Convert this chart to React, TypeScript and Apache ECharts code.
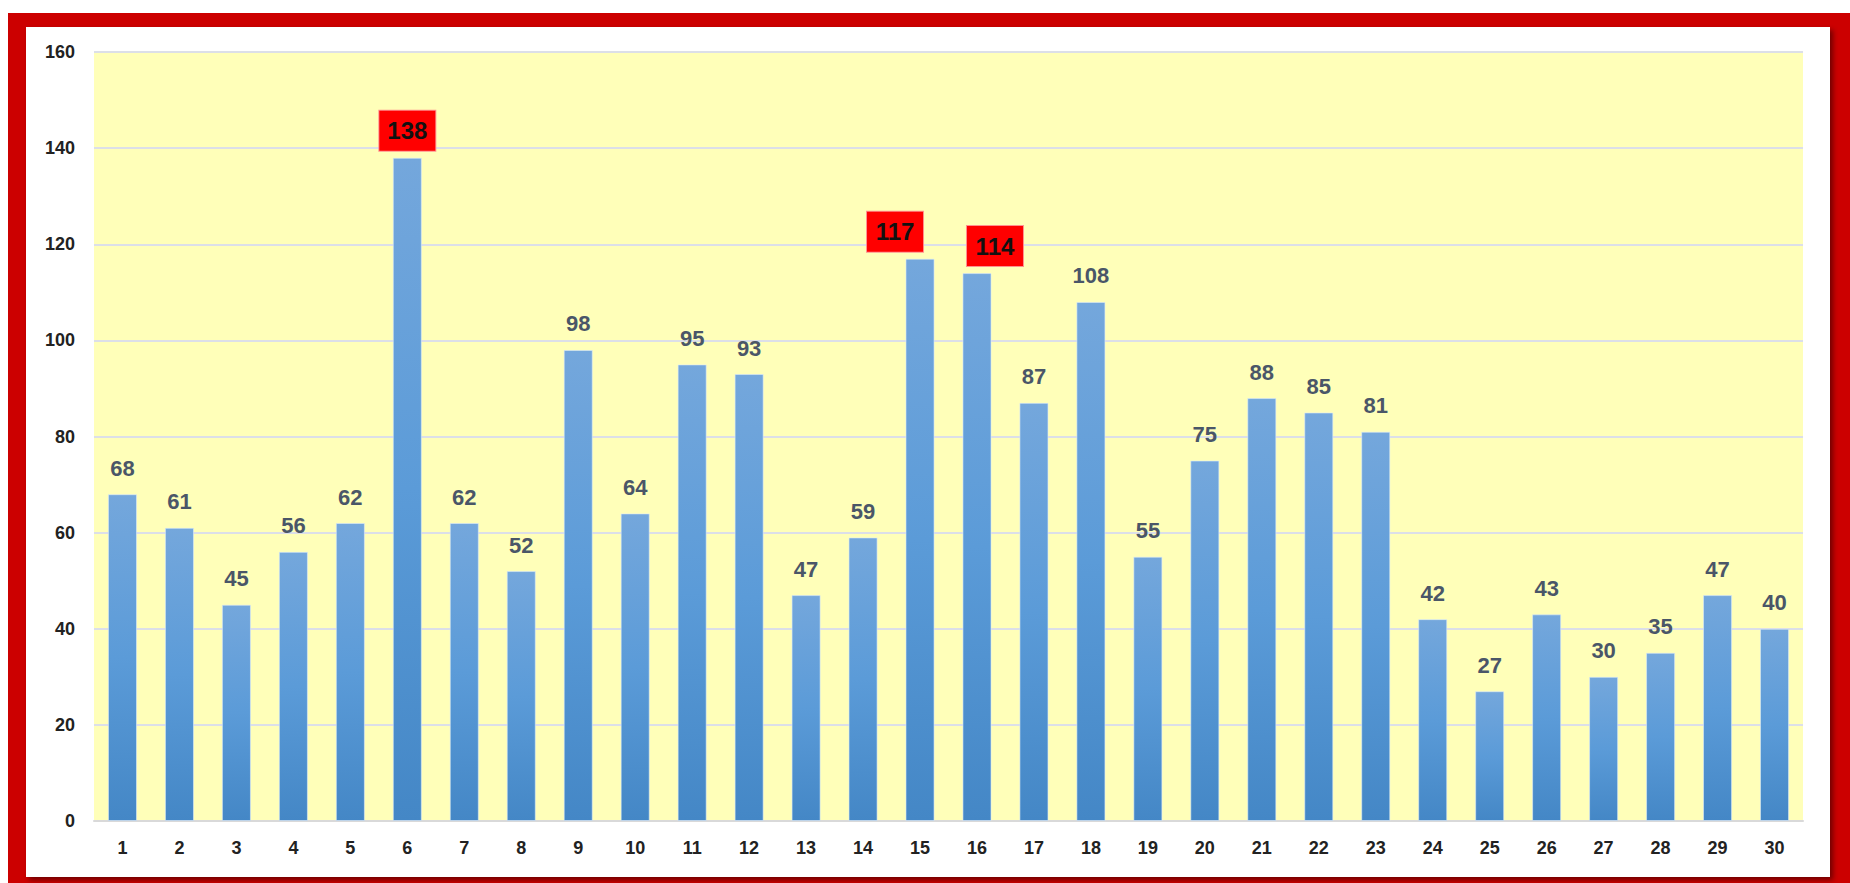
import React, { useEffect, useRef } from "react";
import * as echarts from "echarts";

const categories = ["1","2","3","4","5","6","7","8","9","10","11","12","13","14","15","16","17","18","19","20","21","22","23","24","25","26","27","28","29","30"];
const values = [68,61,45,56,62,138,62,52,98,64,95,93,47,59,117,114,87,108,55,75,88,85,81,42,27,43,30,35,47,40];
const highlighted = [5, 14, 15];
const highlightOffsets = [[0, 0], [-25, 0], [18, 0]];

export default function App() {
  const ref = useRef<HTMLDivElement>(null);
  useEffect(() => {
    if (!ref.current) return;
    const chart = echarts.init(ref.current, null, { renderer: "svg" });
    const data = values.map((v, i) => {
      const hi = highlighted.indexOf(i);
      if (hi < 0) return v;
      return {
        value: v,
        label: {
          show: true,
          position: "top",
          distance: 7,
          offset: highlightOffsets[hi],
          color: "#111",
          fontSize: 24,
          fontWeight: "bold",
          fontFamily: "Liberation Sans",
          backgroundColor: "#FF0000",
          borderColor: "#FF9090",
          borderWidth: 1,
          width: 56,
          lineHeight: 24,
          padding: [8, 0],
          align: "center",
        },
      };
    });
    chart.setOption({
      animation: false,
      grid: {
        left: 94,
        top: 52,
        width: 1709,
        height: 769,
        show: true,
        backgroundColor: "#FFFFB9",
        borderWidth: 0,
      },
      xAxis: {
        type: "category",
        data: categories,
        axisLine: { show: true, lineStyle: { color: "#D9D9D9", width: 2 } },
        axisTick: { show: false },
        axisLabel: {
          color: "#222",
          fontSize: 18,
          fontWeight: "bold",
          fontFamily: "Liberation Sans",
          margin: 18,
        },
      },
      yAxis: {
        type: "value",
        min: 0,
        max: 160,
        interval: 20,
        axisLine: { show: false },
        axisTick: { show: false },
        splitLine: { show: true, lineStyle: { color: "#DCDFE8", width: 2 } },
        axisLabel: {
          color: "#222",
          fontSize: 18,
          fontWeight: "bold",
          fontFamily: "Liberation Sans",
          margin: 19,
        },
      },
      series: [
        {
          type: "bar",
          data,
          barWidth: "51%",
          itemStyle: {
            color: new echarts.graphic.LinearGradient(0, 0, 0, 1, [
              { offset: 0, color: "#74A7DC" },
              { offset: 0.5, color: "#5B9BD8" },
              { offset: 1, color: "#4487C6" },
            ]),
            borderColor: "rgba(220,235,250,0.6)",
            borderWidth: 1,
          },
          label: {
            show: true,
            position: "top",
            distance: 15,
            color: "#4A5668",
            fontSize: 22,
            lineHeight: 22,
            fontWeight: "bold",
            fontFamily: "Liberation Sans",
          },
        },
      ],
    });
    return () => chart.dispose();
  }, []);

  return (
    <div style={{ position: "fixed", left: 0, top: 0, width: 1850, height: 883, background: "#fff", overflow: "hidden" }}>
      <div style={{ position: "absolute", left: 8, top: 13, width: 1850, height: 880, background: "#CC0000" }} />
      <div
        style={{
          position: "absolute",
          left: 26,
          top: 27,
          width: 1804,
          height: 850,
          background: "#fff",
          boxShadow: "3px 3px 5px rgba(0,0,0,0.45)",
        }}
      />
      <div ref={ref} style={{ position: "absolute", left: 0, top: 0, width: 1850, height: 883 }} />
    </div>
  );
}
